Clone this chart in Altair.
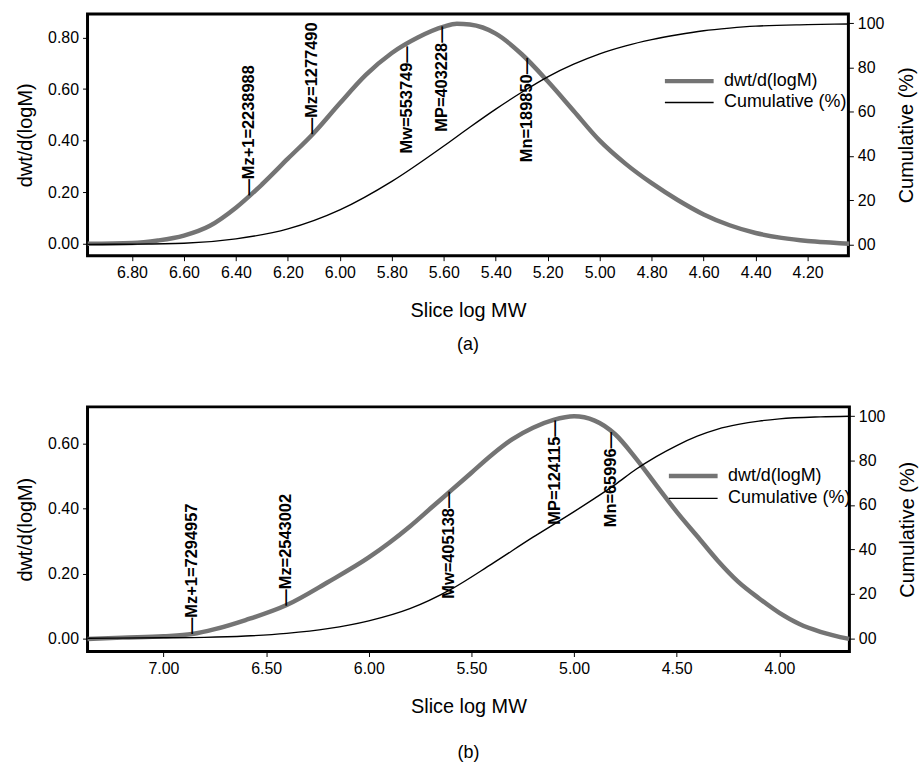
import altair as alt
import pandas as pd

FONT = "Liberation Sans"
GRAY = "#747474"
SERIES = ["dwt/d(logM)", "Cumulative (%)"]
CUM_TICKS = [0, 20, 40, 60, 80, 100]

# ---------------- panel (a) ----------------
a_dwt_logm = [6.97, 6.80, 6.70, 6.60, 6.50, 6.40, 6.30, 6.20, 6.10, 6.00, 5.90, 5.80,
              5.70, 5.60, 5.55, 5.50, 5.40, 5.30, 5.20, 5.10, 5.00, 4.90, 4.80, 4.70,
              4.60, 4.50, 4.40, 4.30, 4.20, 4.10, 4.04]
a_dwt = [0.0, 0.003, 0.013, 0.032, 0.070, 0.140, 0.230, 0.330, 0.430, 0.545, 0.655, 0.740,
         0.800, 0.842, 0.853, 0.850, 0.815, 0.735, 0.630, 0.515, 0.400, 0.310, 0.235, 0.170,
         0.114, 0.072, 0.042, 0.023, 0.011, 0.004, 0.0]
a_cum_logm = [6.97, 6.80, 6.60, 6.40, 6.20, 6.00, 5.80, 5.60, 5.50, 5.40, 5.30, 5.20,
              5.10, 5.00, 4.90, 4.80, 4.70, 4.60, 4.50, 4.40, 4.20, 4.04]
a_cum = [0.0, 0.1, 0.5, 2.5, 7.0, 15.6, 28.5, 44.5, 53.0, 61.2, 68.8, 75.8,
         81.5, 86.2, 89.8, 92.6, 94.8, 96.6, 97.8, 98.7, 99.4, 99.7]
a_mark_names = ["Mz+1=2238988", "Mz=1277490", "Mw=553749", "MP=403228", "Mn=189850"]
a_mark_logm = [6.350, 6.106, 5.743, 5.606, 5.278]
a_mark_y = [0.187, 0.425, 0.766, 0.843, 0.721]
a_mark_side = ["up", "up", "down", "down", "down"]
a_xticks = [6.8, 6.6, 6.4, 6.2, 6.0, 5.8, 5.6, 5.4, 5.2, 5.0, 4.8, 4.6, 4.4, 4.2]
a_xdomain = [4.043, 6.971]
a_ydomain = [-0.046, 0.891]
a_yticks = [0.0, 0.2, 0.4, 0.6, 0.8]
a_cdomain = [-5.1, 104.2]

# ---------------- panel (b) ----------------
b_dwt_logm = [7.37, 7.20, 7.00, 6.86, 6.75, 6.60, 6.40, 6.20, 6.00, 5.90, 5.80, 5.70,
              5.60, 5.50, 5.40, 5.30, 5.20, 5.10, 5.00, 4.90, 4.80, 4.70, 4.60, 4.50,
              4.40, 4.30, 4.20, 4.10, 4.00, 3.90, 3.80, 3.66]
b_dwt = [0.0, 0.004, 0.008, 0.015, 0.030, 0.058, 0.104, 0.174, 0.250, 0.295, 0.345, 0.400,
         0.455, 0.510, 0.565, 0.613, 0.648, 0.672, 0.683, 0.670, 0.628, 0.555, 0.472, 0.390,
         0.315, 0.240, 0.175, 0.125, 0.080, 0.045, 0.022, 0.0]
b_cum_logm = [7.37, 7.00, 6.80, 6.60, 6.40, 6.20, 6.00, 5.80, 5.60, 5.40, 5.20, 5.00,
              4.90, 4.80, 4.70, 4.60, 4.50, 4.40, 4.30, 4.20, 4.10, 4.00, 3.80, 3.66]
b_cum = [0.0, 0.2, 0.4, 1.0, 2.2, 4.3, 7.8, 13.3, 22.0, 33.5, 45.5, 57.0,
         63.0, 69.2, 76.0, 81.8, 86.8, 91.0, 94.2, 96.3, 97.8, 98.8, 99.7, 100.0]
b_mark_names = ["Mz+1=7294957", "Mz=2543002", "Mw=405138", "MP=124115", "Mn=65996"]
b_mark_logm = [6.863, 6.405, 5.608, 5.094, 4.820]
b_mark_y = [0.015, 0.102, 0.452, 0.671, 0.635]
b_mark_side = ["up", "up", "down", "down", "down"]
b_xticks = [7.0, 6.5, 6.0, 5.5, 5.0, 4.5, 4.0]
b_xdomain = [3.659, 7.370]
b_ydomain = [-0.0387, 0.712]
b_yticks = [0.0, 0.2, 0.4, 0.6]
b_cdomain = [-6.0, 104.2]


def panel(dwt_logm, dwt, cum_logm, cum, names, mlogm, my, side, xticks, xdomain,
          ydomain, yticks, cdomain, caption, cap_offset, width, height, legx, legy, rowpad):
    df_dwt = pd.DataFrame({"logM": dwt_logm, "val": dwt, "series": SERIES[0]})
    df_cum = pd.DataFrame({"logM": cum_logm, "val": cum, "series": SERIES[1]})
    df_m = pd.DataFrame({"logM": mlogm, "val": my, "name": names, "side": side})
    df_m["label"] = [("\u2014" + n) if s == "up" else (n + "\u2014")
                     for n, s in zip(df_m["name"], df_m["side"])]

    xenc = alt.X("logM:Q",
                 scale=alt.Scale(domain=xdomain, reverse=True, nice=False, zero=False),
                 axis=alt.Axis(values=xticks, format=".2f", title="Slice log MW",
                               titlePadding=20))
    yaxis = alt.Axis(values=yticks, format=".2f", title="dwt/d(logM)", orient="left",
                     titlePadding=12)
    yscale = alt.Scale(domain=ydomain, nice=False, zero=False)
    leg = alt.Legend(orient="none", legendX=legx, legendY=legy, title=None,
                     symbolType="M-3.9,0H1", symbolSize=400, labelFontSize=18,
                     labelFont=FONT, labelOffset=8, rowPadding=rowpad, padding=0,
                     labelColor="black")
    color = alt.Color("series:N", scale=alt.Scale(domain=SERIES, range=[GRAY, "black"]),
                      legend=leg)
    sw = alt.StrokeWidth("series:N", scale=alt.Scale(domain=SERIES, range=[4.5, 1.4]),
                         legend=leg)

    gray = alt.Chart(df_dwt).mark_line(interpolate="monotone").encode(
        x=xenc, y=alt.Y("val:Q", scale=yscale, axis=yaxis), color=color, strokeWidth=sw)
    up = alt.Chart(df_m[df_m["side"] == "up"]).mark_text(
        angle=270, align="left", baseline="middle", font=FONT, fontSize=16.5,
        fontWeight="bold", color="black").encode(
        x=xenc, y=alt.Y("val:Q", scale=yscale, axis=yaxis), text="label:N")
    down = alt.Chart(df_m[df_m["side"] == "down"]).mark_text(
        angle=270, align="right", baseline="middle", font=FONT, fontSize=16.5,
        fontWeight="bold", color="black").encode(
        x=xenc, y=alt.Y("val:Q", scale=yscale, axis=yaxis), text="label:N")
    black = alt.Chart(df_cum).mark_line(interpolate="monotone").encode(
        x=xenc,
        y=alt.Y("val:Q", scale=alt.Scale(domain=cdomain, nice=False, zero=False),
                axis=alt.Axis(values=CUM_TICKS, orient="right", title="Cumulative (%)",
                              titleAngle=270, titlePadding=33,
                              labelExpr="datum.value == 0 ? '00' : format(datum.value, 'd')")),
        color=color, strokeWidth=sw)

    left = alt.layer(gray, up, down)
    return alt.layer(left, black).resolve_scale(y="independent").properties(
        width=width, height=height,
        title=alt.TitleParams(caption, orient="bottom", fontSize=18, fontWeight="normal",
                              font=FONT, offset=cap_offset, color="black"))


top = panel(a_dwt_logm, a_dwt, a_cum_logm, a_cum, a_mark_names, a_mark_logm, a_mark_y,
            a_mark_side, a_xticks, a_xdomain, a_ydomain, a_yticks, a_cdomain,
            "(a)", 16, 765, 243, 607, 55, 1)
bottom = panel(b_dwt_logm, b_dwt, b_cum_logm, b_cum, b_mark_names, b_mark_logm, b_mark_y,
               b_mark_side, b_xticks, b_xdomain, b_ydomain, b_yticks, b_cdomain,
               "(b)", 28, 766, 246, 611, 57, 2)

chart = alt.vconcat(top, bottom, spacing=49).resolve_scale(
    color="independent", strokeWidth="independent", x="independent"
).properties(
    padding={"left": 14, "top": 10, "right": 2, "bottom": 0}
).configure_view(
    stroke="black", strokeWidth=3
).configure_axis(
    labelFont=FONT, titleFont=FONT, labelFontSize=16, titleFontSize=20,
    titleFontWeight="normal", labelColor="black", titleColor="black",
    tickColor="black", tickSize=5, tickWidth=1, labelPadding=4,
    domain=False, grid=False
)

chart.save("out.html", embed_options={"renderer": "svg", "actions": False})
